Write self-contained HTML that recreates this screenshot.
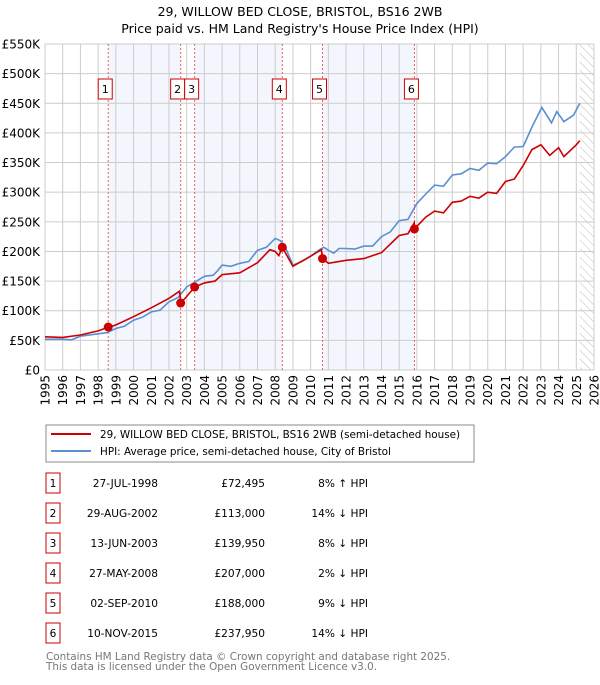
<!DOCTYPE html>
<html><head><meta charset="utf-8"><style>
body{margin:0;background:#fff;font-family:"Liberation Sans","DejaVu Sans",sans-serif;}
svg text{font-family:"DejaVu Sans","Liberation Sans",sans-serif;}
</style></head><body>
<svg id="c" width="600" height="680" xmlns="http://www.w3.org/2000/svg">
<text x="300" y="16" text-anchor="middle" font-size="12.5" fill="#000">29, WILLOW BED CLOSE, BRISTOL, BS16 2WB</text>
<text x="300" y="33" text-anchor="middle" font-size="12.5" fill="#000">Price paid vs. HM Land Registry's House Price Index (HPI)</text>
<g id="plot"></g>
<rect x="46" y="425" width="428" height="37" fill="#fff" stroke="#888"/>
<line x1="51" y1="434" x2="91" y2="434" stroke="#cc0000" stroke-width="2"/>
<text x="100" y="438" font-size="10.4">29, WILLOW BED CLOSE, BRISTOL, BS16 2WB (semi-detached house)</text>
<line x1="51" y1="451" x2="91" y2="451" stroke="#5b8fd4" stroke-width="2"/>
<text x="100" y="455" font-size="10.4">HPI: Average price, semi-detached house, City of Bristol</text>
<g id="table" font-size="10.6"></g>
<text x="46" y="660" font-size="10.4" fill="#777">Contains HM Land Registry data © Crown copyright and database right 2025.</text>
<text x="46" y="670" font-size="10.4" fill="#777">This data is licensed under the Open Government Licence v3.0.</text>
</svg>
<script>
const hpiYears=[1995,1996,1996.5,1997,1998,1998.5,1999,1999.5,2000,2000.5,2001,2001.5,2002,2002.5,2003,2003.5,2004,2004.5,2004.7,2005,2005.5,2006,2006.5,2007,2007.5,2008,2008.3,2008.6,2009,2009.5,2010,2010.5,2010.75,2011,2011.3,2011.6,2012,2012.5,2013,2013.5,2014,2014.5,2015,2015.5,2016,2016.5,2017,2017.5,2018,2018.5,2019,2019.5,2020,2020.5,2021,2021.5,2022,2022.5,2023.05,2023.6,2023.9,2024.3,2024.85,2025.2];
const hpiValues=[52,52,51,57,61,63,70,74,84,89,98,101,115,122,140,149,158,160,166,177,175,180,183,202,207,222,218,205,177,183,192,203,207,202,197,205,205,204,209,209,225,233,252,254,281,297,312,310,329,331,340,337,349,348,360,376,377,410,443,417,436,419,430,450];
const redYears=[1995,1996,1997,1998,1998.57,1999,2000,2001,2002,2002.6,2002.66,2003,2003.45,2004,2004.6,2005,2006,2007,2007.7,2008,2008.2,2008.4,2009,2010,2010.6,2010.67,2011,2012,2013,2014,2015,2015.5,2015.85,2015.86,2016.5,2017,2017.5,2018,2018.5,2019,2019.5,2020,2020.5,2021,2021.5,2022,2022.5,2023,2023.5,2024,2024.3,2025,2025.2];
const redValues=[56,55,59,66,72,76,90,105,121,133,113,124,140,147,150,161,164,181,203,200,193,207,175,192,203,188,180,185,188,198,227,230,248,238,258,268,265,283,285,293,290,300,298,318,322,345,372,380,362,375,360,380,387];
const saleYears=[1998.57,2002.66,2003.45,2008.4,2010.67,2015.86];
const saleValues=[72.495,113,139.95,207,188,237.95];
const saleLabels=["1","2","3","4","5","6"];
const saleDates=["27-JUL-1998","29-AUG-2002","13-JUN-2003","27-MAY-2008","02-SEP-2010","10-NOV-2015"];
const salePrices=["£72,495","£113,000","£139,950","£207,000","£188,000","£237,950"];
const saleHpi=["8% ↑ HPI","14% ↓ HPI","8% ↓ HPI","2% ↓ HPI","9% ↓ HPI","14% ↓ HPI"];
const yTicks=[0,50,100,150,200,250,300,350,400,450,500,550];
const yTickLabels=["£0","£50K","£100K","£150K","£200K","£250K","£300K","£350K","£400K","£450K","£500K","£550K"];
const xTicks=[1995,1996,1997,1998,1999,2000,2001,2002,2003,2004,2005,2006,2007,2008,2009,2010,2011,2012,2013,2014,2015,2016,2017,2018,2019,2020,2021,2022,2023,2024,2025,2026];

const L=45,R=594,T=44,B=370;
const X=y=>L+(y-1995)/(2026-1995)*(R-L);
const Y=v=>B-v/550*(B-T);
const NS="http://www.w3.org/2000/svg";
const g=document.getElementById('plot');
function mk(tag,attrs,parent){const e=document.createElementNS(NS,tag);for(const k in attrs)e.setAttribute(k,attrs[k]);(parent||g).appendChild(e);return e;}
for(let i=0;i<saleYears.length-1;i+=2){
 const r=mk('rect',{x:X(saleYears[i]),y:T,width:X(saleYears[i+1])-X(saleYears[i]),height:B-T,fill:'#f3f6fd'});
 
 
}
const defs=mk('defs',{});
const pat=mk('pattern',{id:'h',width:6,height:6,patternUnits:'userSpaceOnUse',patternTransform:'rotate(-45)'},defs);
mk('line',{x1:0,y1:0,x2:0,y2:6,stroke:'#bbb','stroke-width':1},pat);
const hr=mk('rect',{x:X(2025.2),y:T,width:R-X(2025.2),height:B-T,fill:'url(#h)'});


xTicks.forEach((t,i)=>{
 const l=mk('line',{x1:X(t),x2:X(t),y1:T,y2:B,stroke:'#ccc','stroke-width':1});
 
 
 const tx=mk('text',{x:0,y:0,'font-size':12,'text-anchor':'end',transform:`translate(${X(t)+4.5},${B+5}) rotate(-90)`});
 tx.textContent=t;
 
 
});
yTicks.forEach((t,i)=>{
 const l=mk('line',{x1:L,x2:R,y1:Y(t),y2:Y(t),stroke:'#ccc','stroke-width':1});
 
 
 const tx=mk('text',{x:40,y:Y(t)+4.5,'font-size':12,'text-anchor':'end'});
 tx.textContent=yTickLabels[i];
 
 
});
saleYears.forEach((s,i)=>{
 const l=mk('line',{x1:X(s),x2:X(s),y1:T,y2:B,stroke:'#f06060','stroke-width':1,'stroke-dasharray':'2,2'});
 
 
 const bx=X(s)-3;
 const r=mk('rect',{x:bx-7,y:79,width:14,height:20,fill:'#fff',stroke:'#cc0000','stroke-width':1});
 
 
 const tx=mk('text',{x:bx,y:93,'font-size':11,'text-anchor':'middle'});
 tx.textContent=saleLabels[i];
 
 
});
const pl=(xs,vs)=>xs.map((x,i)=>X(x).toFixed(1)+','+Y(vs[i]).toFixed(1)).join(' ');
const hl=mk('polyline',{points:pl(hpiYears,hpiValues),fill:'none',stroke:'#5b8fd4','stroke-width':1.6});


const rl=mk('polyline',{points:pl(redYears,redValues),fill:'none',stroke:'#cc0000','stroke-width':1.6});


saleYears.forEach((s,i)=>{
 const c=mk('circle',{cx:X(s),cy:Y(saleValues[i]),r:4.5,fill:'#cc0000'});
 
 
});
const tb=document.getElementById('table');
saleLabels.forEach((lab,i)=>{
 const cy=483+i*30;
 const r=mk('rect',{x:46,y:cy-10,width:14,height:20,fill:'#fff',stroke:'#cc0000','stroke-width':1},tb);
 
 
 const cells=[[53,lab,'middle'],[158,saleDates[i],'end'],[265,salePrices[i],'end'],[368,saleHpi[i],'end']];
 cells.forEach((c,j)=>{
  const t=mk('text',{x:c[0],y:cy+4,'text-anchor':c[2]},tb);
  t.textContent=c[1];
  
  
 });
});
</script>
</body></html>
